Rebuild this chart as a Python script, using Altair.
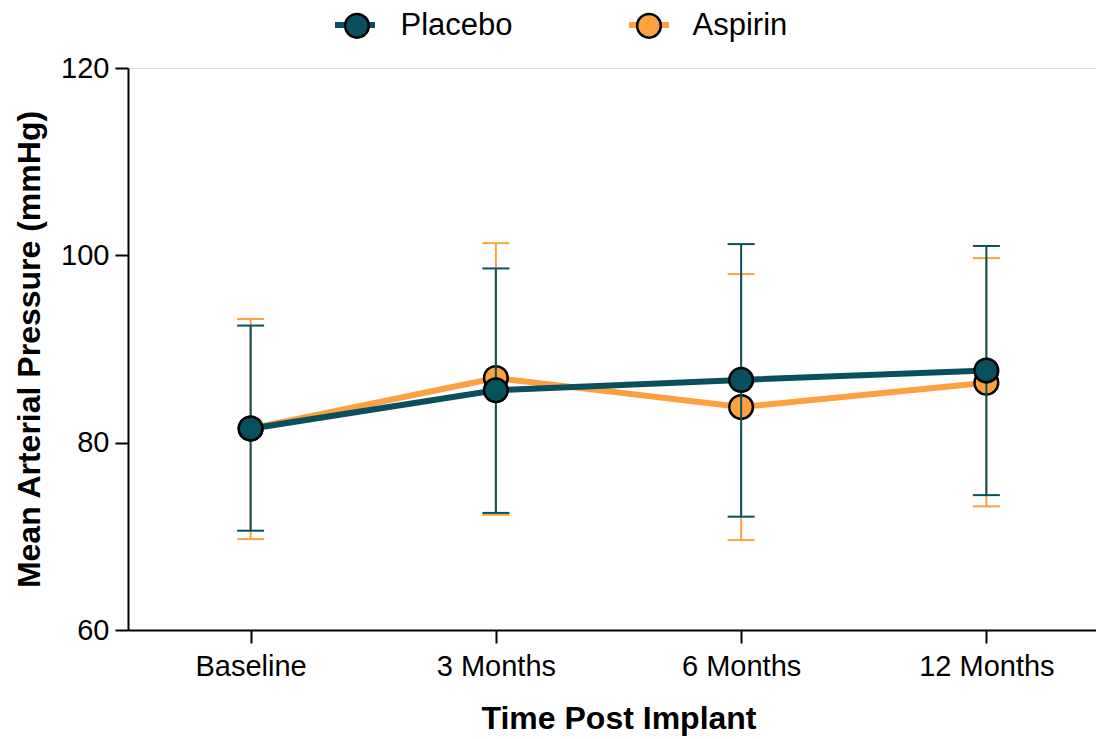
import altair as alt
import pandas as pd

times = ["Baseline", "3 Months", "6 Months", "12 Months"]
groups = ["Placebo", "Aspirin"]
placebo_mean = [81.5, 85.6, 86.7, 87.7]
placebo_low = [70.6, 72.5, 72.1, 74.4]
placebo_high = [92.5, 98.6, 101.2, 101.0]
aspirin_mean = [81.5, 86.9, 83.8, 86.4]
aspirin_low = [69.7, 72.3, 69.6, 73.2]
aspirin_high = [93.2, 101.3, 98.0, 99.7]
colors = ["#0A4F5E", "#FDA03F"]

rows = []
for g, m, lo, hi in [("Placebo", placebo_mean, placebo_low, placebo_high),
                     ("Aspirin", aspirin_mean, aspirin_low, aspirin_high)]:
    for t, a, b, c in zip(times, m, lo, hi):
        rows.append({"time": t, "group": g, "group2": g, "mean": a, "low": b, "high": c})
df = pd.DataFrame(rows)

FONT = "Liberation Sans"

x = alt.X("time:N", sort=times,
          scale=alt.Scale(type="point", padding=0.5),
          axis=alt.Axis(title="Time Post Implant", labelAngle=0, labelFontSize=29,
                        titleFontSize=32, titleFontWeight="bold", tickSize=13,
                        labelPadding=9, titlePadding=22))


def yenc(field):
    return alt.Y(f"{field}:Q",
                 scale=alt.Scale(domain=[60, 120], nice=False, zero=False),
                 axis=alt.Axis(title="Mean Arterial Pressure (mmHg)", values=[60, 80, 100, 120],
                               labelFontSize=29, titleFontSize=32, titleFontWeight="bold",
                               tickSize=13, labelPadding=6, titlePadding=14, grid=False))


color = alt.Color("group:N", scale=alt.Scale(domain=groups, range=colors),
                  legend=alt.Legend(orient="none", legendX=204, legendY=-66,
                                    direction="horizontal", title=None,
                                    symbolType="stroke", symbolSize=1600,
                                    symbolStrokeWidth=6, labelFontSize=31,
                                    labelExpr="''", labelOffset=22, columnPadding=217))
fill = alt.Fill("group2:N", sort=groups, scale=alt.Scale(range=colors),
                legend=alt.Legend(orient="none", legendX=204, legendY=-58,
                                  direction="horizontal", title=None,
                                  symbolType="circle", symbolSize=560,
                                  symbolStrokeColor="black", symbolStrokeWidth=2.5,
                                  symbolOffset=9.5, labelOffset=28, columnPadding=111,
                                  labelFontSize=31, labelColor="black", symbolOpacity=1))

base = alt.Chart(df)
layers = []
for g in ["Aspirin", "Placebo"]:
    b = base.transform_filter(alt.datum.group == g)
    layers.append(b.mark_rule(strokeWidth=2).encode(
        x=x, y=yenc("low"), y2=alt.Y2("high:Q"), color=color))
    layers.append(b.transform_fold(["low", "high"], as_=["which", "cap"]).mark_rule(
        strokeWidth=2, xOffset=-13.5, x2Offset=13.5).encode(
        x=x, x2=alt.X2("time:N"), y=yenc("cap"), color=color))
    layers.append(b.mark_line(strokeWidth=6).encode(x=x, y=yenc("mean"), color=color))
    layers.append(b.mark_circle(size=560, stroke="black", strokeWidth=2.5, opacity=1).encode(
        x=x, y=yenc("mean"), fill=fill))

chart = alt.layer(*layers).properties(
    width=981, height=562,
    autosize=alt.AutoSizeParams(type="none"),
    padding={"left": 120, "top": 60, "right": -13, "bottom": 108},
).configure_view(stroke=None).configure(font=FONT).configure_axis(
    domainColor="black", domainWidth=2, tickColor="black", tickWidth=2,
    labelColor="black", titleColor="black", labelFont=FONT, titleFont=FONT,
).configure_legend(labelFont=FONT)

chart.save("out.html", embed_options={"renderer": "svg", "actions": False})
